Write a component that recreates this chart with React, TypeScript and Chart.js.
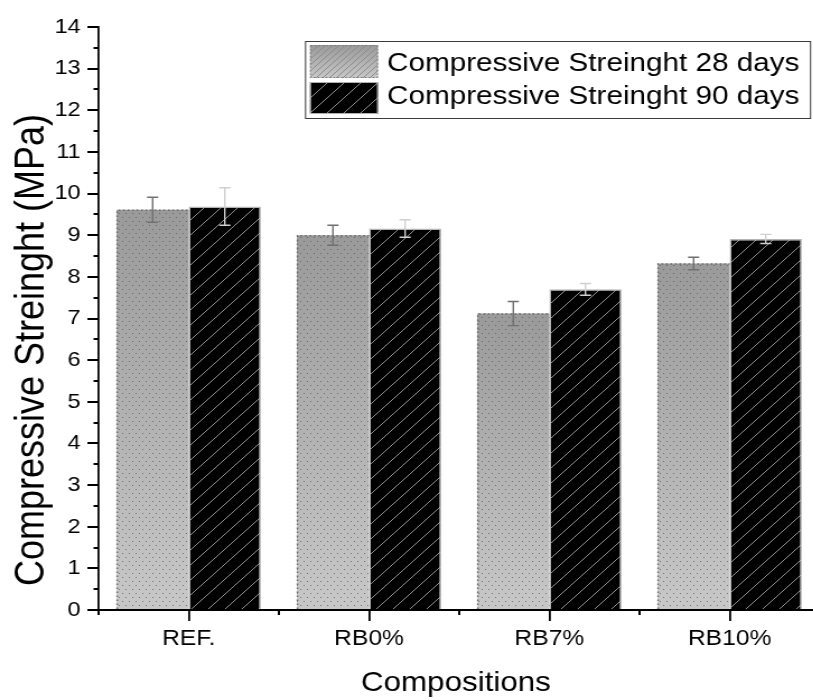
import React, { useEffect, useRef } from 'react';
import { Chart, registerables } from 'chart.js';

Chart.register(...registerables);

// ---------- data ----------
const categories = ['REF.', 'RB0%', 'RB7%', 'RB10%'];
const seriesLabels = ['Compressive Streinght 28 days', 'Compressive Streinght 90 days'];
const values28 = [9.61, 9.0, 7.12, 8.32];
const errors28 = [0.3, 0.24, 0.29, 0.15];
const values90 = [9.69, 9.16, 7.7, 8.91];
const errors90 = [0.45, 0.21, 0.14, 0.11];
const yMin = 0;
const yMax = 14;
const xTitle = 'Compositions';
const yTitle = 'Compressive Streinght (MPa)';

// ---------- layout / style ----------
const SX = 1.12; // horizontal stretch of the original figure
const W = 745;
const H = 700;
const FONT = '"Liberation Sans", Arial, sans-serif';

function makeHatch(step: number, bg: string | null, line: string, lw: number) {
  const c = document.createElement('canvas');
  c.width = step;
  c.height = step;
  const g = c.getContext('2d')!;
  if (bg) {
    g.fillStyle = bg;
    g.fillRect(0, 0, step, step);
  }
  g.strokeStyle = line;
  g.lineWidth = lw;
  g.beginPath();
  g.moveTo(0, step);
  g.lineTo(step, 0);
  g.moveTo(-1, 1);
  g.lineTo(1, -1);
  g.moveTo(step - 1, step + 1);
  g.lineTo(step + 1, step - 1);
  g.stroke();
  return c;
}

function makeDots() {
  const c = document.createElement('canvas');
  c.width = 6;
  c.height = 8;
  const g = c.getContext('2d')!;
  g.fillStyle = 'rgba(85,85,85,0.75)';
  g.fillRect(1, 1, 1, 1);
  g.fillRect(4, 5, 1, 1);
  return c;
}

export default function App() {
  const ref = useRef<HTMLCanvasElement | null>(null);

  useEffect(() => {
    const canvas = ref.current;
    if (!canvas) return;
    const ctx0 = canvas.getContext('2d')!;
    const hatchBar = ctx0.createPattern(makeHatch(15, '#000000', '#a0a0a0', 0.9), 'repeat')!;
    const hatchFine = ctx0.createPattern(makeHatch(6, null, '#8c8c8c', 1), 'repeat')!;
    const dotPattern = ctx0.createPattern(makeDots(), 'repeat')!;

    const gradientFor = (ctx: CanvasRenderingContext2D, top: number, bot: number) => {
      const g = ctx.createLinearGradient(0, top, 0, bot);
      g.addColorStop(0, '#9a9a9a');
      g.addColorStop(1, '#c8c8c8');
      return g;
    };

    const custom = {
      id: 'custom',
      afterDatasetsDraw(chart: any) {
        const ctx: CanvasRenderingContext2D = chart.ctx;
        const ys = chart.scales.y;
        const xs = chart.scales.x;
        const area = chart.chartArea;
        // dots + dotted border for 28 days
        const meta0 = chart.getDatasetMeta(0);
        meta0.data.forEach((bar: any) => {
          const { x, y, base, width } = bar.getProps(['x', 'y', 'base', 'width'], true);
          const left = x - width / 2;
          ctx.save();
          ctx.fillStyle = dotPattern;
          ctx.fillRect(left, y, width, base - y);
          ctx.setLineDash([1.5, 2.5]);
          ctx.strokeStyle = '#6a6a6a';
          ctx.lineWidth = 1.5;
          ctx.beginPath();
          ctx.moveTo(left + 0.5, base);
          ctx.lineTo(left + 0.5, y + 0.5);
          ctx.lineTo(left + width, y + 0.5);
          ctx.stroke();
          ctx.restore();
        });
        // error bars
        const drawErr = (meta: any, vals: number[], errs: number[], color: string) => {
          meta.data.forEach((bar: any, i: number) => {
            const x = bar.x;
            const yT = ys.getPixelForValue(vals[i] + errs[i]);
            const yB = ys.getPixelForValue(vals[i] - errs[i]);
            ctx.save();
            ctx.strokeStyle = color;
            ctx.lineWidth = 1.4;
            ctx.beginPath();
            ctx.moveTo(x, yT);
            ctx.lineTo(x, yB);
            ctx.moveTo(x - 5, yT);
            ctx.lineTo(x + 5, yT);
            ctx.moveTo(x - 5, yB);
            ctx.lineTo(x + 5, yB);
            ctx.stroke();
            ctx.restore();
          });
        };
        drawErr(meta0, values28, errors28, '#707070');
        drawErr(chart.getDatasetMeta(1), values90, errors90, '#cfcfcf');
        // minor ticks
        ctx.save();
        ctx.strokeStyle = '#000';
        ctx.lineWidth = 2;
        ctx.beginPath();
        for (let v = yMin + 0.5; v < yMax; v += 1) {
          const py = Math.round(ys.getPixelForValue(v));
          ctx.moveTo(area.left - 4.5, py);
          ctx.lineTo(area.left, py);
        }
        for (let i = -0.5; i <= categories.length - 0.5; i += 1) {
          const px = xs.getPixelForValue(i);
          ctx.moveTo(px, area.bottom);
          ctx.lineTo(px, area.bottom + 5);
        }
        ctx.stroke();
        ctx.restore();
      },
      afterDraw(chart: any) {
        const ctx: CanvasRenderingContext2D = chart.ctx;
        const area = chart.chartArea;
        ctx.save();
        ctx.fillStyle = '#000';
        // axis titles
        ctx.textAlign = 'center';
        ctx.textBaseline = 'alphabetic';
        ctx.font = `28px ${FONT}`;
        ctx.fillText(xTitle, (area.left + area.right) / 2 - 3, 691);
        ctx.save();
        ctx.font = `36px ${FONT}`;
        ctx.translate(44 / SX, 350);
        ctx.rotate(-Math.PI / 2);
        ctx.fillText(yTitle, 0, 0);
        ctx.restore();

        // legend
        const lx0 = 305 / SX;
        const lx1 = 810 / SX;
        ctx.strokeStyle = '#3a3a3a';
        ctx.lineWidth = 1;
        ctx.strokeRect(lx0 + 0.5, 41.5, lx1 - lx0, 77);
        const sx0 = 310 / SX;
        const sw = 68 / SX;
        // swatch 1
        ctx.fillStyle = gradientFor(ctx, 45, 78);
        ctx.fillRect(sx0, 45, sw, 33);
        ctx.fillStyle = hatchFine;
        ctx.fillRect(sx0, 45, sw, 33);
        ctx.save();
        ctx.setLineDash([1.5, 2]);
        ctx.strokeStyle = '#777';
        ctx.lineWidth = 1;
        ctx.strokeRect(sx0 + 0.5, 45.5, sw - 1, 32);
        ctx.restore();
        // swatch 2
        ctx.fillStyle = hatchBar;
        ctx.fillRect(sx0, 82, sw, 32);
        ctx.strokeStyle = '#b0b0b0';
        ctx.lineWidth = 1;
        ctx.strokeRect(sx0 + 0.5, 82.5, sw - 1, 31);
        // texts
        ctx.fillStyle = '#000';
        ctx.font = `26.5px ${FONT}`;
        ctx.textAlign = 'left';
        ctx.fillText(seriesLabels[0], 387 / SX, 71);
        ctx.fillText(seriesLabels[1], 387 / SX, 104);
        ctx.restore();
      },
    };

    const chart = new Chart(canvas, {
      type: 'bar',
      data: {
        labels: categories,
        datasets: [
          {
            label: seriesLabels[0],
            data: values28,
            backgroundColor: (c: any) => {
              const ys = c.chart.scales && c.chart.scales.y;
              if (!ys || c.type !== 'data') return '#b0b0b0';
              const top = ys.getPixelForValue(c.raw);
              const bot = ys.getPixelForValue(0);
              if (!isFinite(top) || !isFinite(bot) || bot <= top) return '#b0b0b0';
              return gradientFor(c.chart.ctx, top, bot);
            },
            borderWidth: 0,
            categoryPercentage: 0.8,
            barPercentage: 1.0,
          },
          {
            label: seriesLabels[1],
            data: values90,
            backgroundColor: hatchBar,
            borderColor: '#b3b3b3',
            borderWidth: 1.5,
            categoryPercentage: 0.8,
            barPercentage: 1.0,
          },
        ],
      },
      options: {
        responsive: false,
        devicePixelRatio: 1,
        animation: false,
        layout: { padding: { left: 0, right: 13, top: 27, bottom: 0 } },
        plugins: {
          legend: { display: false },
          tooltip: { enabled: false },
        },
        scales: {
          x: {
            offset: true,
            afterFit: (s: any) => {
              s.height = 90;
            },
            ticks: {
              color: '#000',
              font: { family: FONT, size: 22 },
              padding: 5,
              maxRotation: 0,
              autoSkip: false,
            },
            grid: {
              offset: false,
              drawOnChartArea: false,
              drawTicks: true,
              tickLength: 11,
              color: '#000',
              lineWidth: 1.8,
            },
            border: { display: true, color: '#000', width: 2 },
          },
          y: {
            min: yMin,
            max: yMax,
            afterFit: (s: any) => {
              s.width = 88;
            },
            ticks: {
              stepSize: 0.5,
              autoSkip: false,
              padding: 6,
              color: '#000',
              font: { family: FONT, size: 21 },
              callback: (v: any) => (Number.isInteger(v) ? String(v) : ''),
            },
            grid: {
              drawOnChartArea: false,
              drawTicks: true,
              tickLength: 10,
              lineWidth: 2,
              color: (c: any) =>
                c.tick && Number.isInteger(c.tick.value) ? '#000' : 'rgba(0,0,0,0)',
            },
            border: { display: true, color: '#000', width: 1.8 },
          },
        },
      },
      plugins: [custom],
    } as any);

    return () => {
      chart.destroy();
    };
  }, []);

  return (
    <div
      style={{
        position: 'fixed',
        left: 0,
        top: 0,
        width: 813,
        height: 700,
        overflow: 'hidden',
        background: '#fff',
      }}
    >
      <div style={{ transform: `scaleX(${SX})`, transformOrigin: '0 0', width: W, height: H }}>
        <canvas ref={ref} width={W} height={H} style={{ display: 'block' }} />
      </div>
    </div>
  );
}
